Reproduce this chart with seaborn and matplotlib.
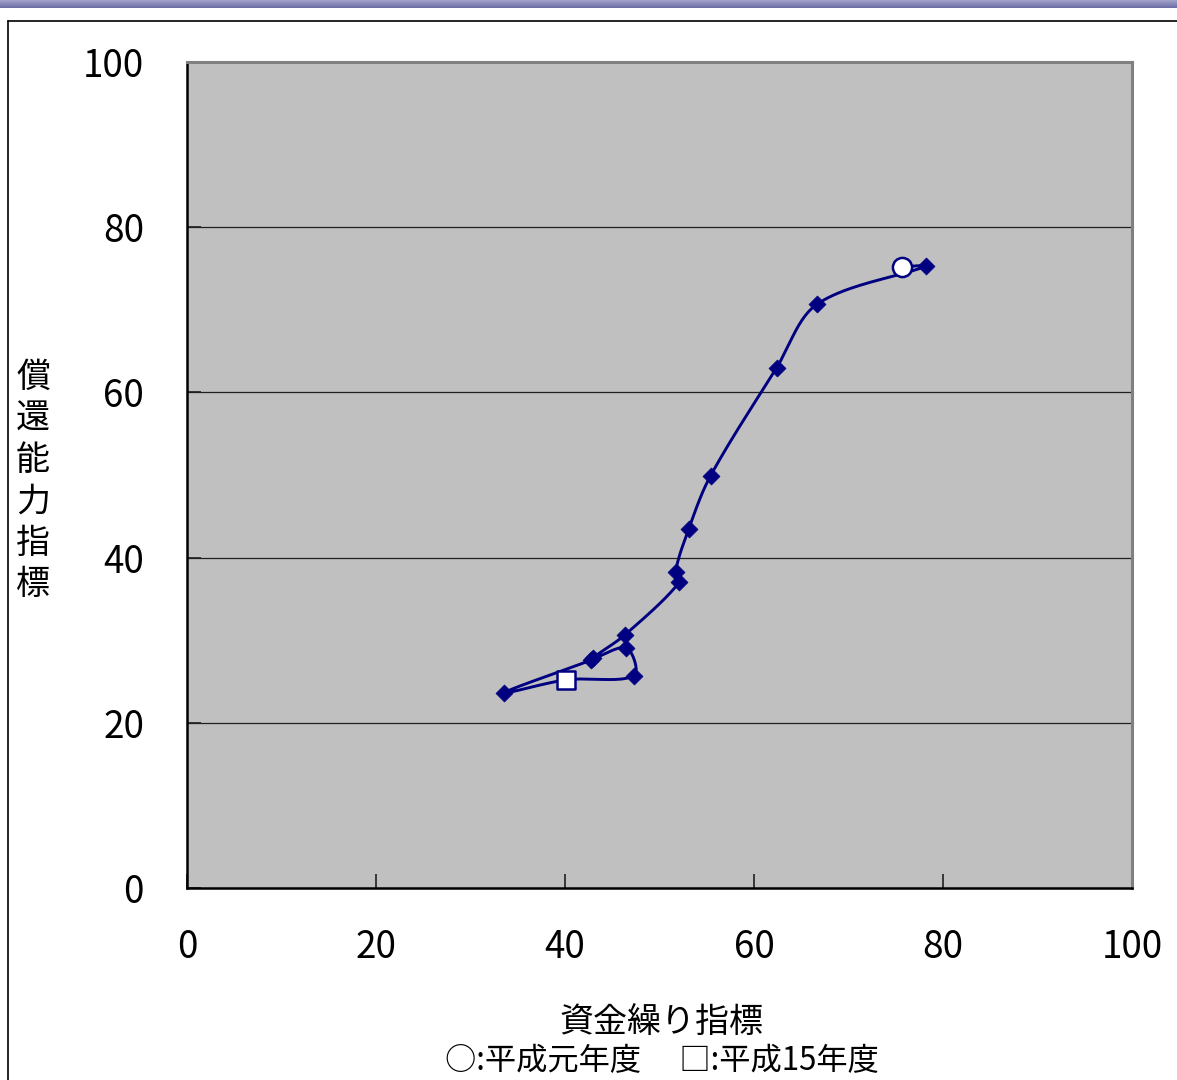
import numpy as np
import pandas as pd
import matplotlib
matplotlib.use("Agg")
import matplotlib.pyplot as plt
import seaborn as sns
from matplotlib.lines import Line2D

# 資金繰り指標 (x) and 償還能力指標 (y), in the order the line runs through them
cash_flow_index = [75.7, 78.2, 66.7, 62.4, 55.4, 53.1, 51.7, 52.1, 46.3, 43.0, 46.5, 47.3, 40.1, 33.5, 42.8]
repay_index = [75.2, 75.3, 70.7, 63.0, 49.9, 43.5, 38.3, 37.0, 30.6, 27.8, 29.1, 25.7, 25.2, 23.6, 27.6]

# highlighted years
first_year = (75.7, 75.2)   # 平成元年度
last_year = (40.1, 25.2)    # 平成15年度

tick_values = [0, 20, 40, 60, 80, 100]
x_label = "資金繰り指標"
y_label = "償還能力指標"
legend_note = "○:平成元年度　 □:平成15年度"

df = pd.DataFrame({"x": cash_flow_index, "y": repay_index})

# axes box in pixels
AX_L, AX_R, AX_T, AX_B = 187, 1132, 62, 888
SX = (AX_R - AX_L) / 100.0
SY = (AX_B - AX_T) / 100.0


def smooth_path(xs, ys, n=40):
    """Bezier smoothing through every point, tangent lengths weighted by chord length."""
    P = np.column_stack([xs, ys]).astype(float)
    scale = np.array([SX, SY])

    def dist(a, b):
        return float(np.hypot(*((a - b) * scale)))

    out = []
    for i in range(len(P) - 1):
        p0 = P[i - 1] if i > 0 else P[i]
        p1, p2 = P[i], P[i + 1]
        p3 = P[i + 2] if i + 2 < len(P) else P[i + 1]
        d01, d12, d23 = dist(p0, p1), dist(p1, p2), dist(p2, p3)
        f1 = d12 / (d01 + d12) / 3.0 if d01 + d12 > 0 else 0.0
        f2 = d12 / (d12 + d23) / 3.0 if d12 + d23 > 0 else 0.0
        c1 = p1 + (p2 - p0) * f1
        c2 = p2 - (p3 - p1) * f2
        t = np.linspace(0, 1, n)[:, None]
        seg = ((1 - t) ** 3) * p1 + 3 * ((1 - t) ** 2) * t * c1 + 3 * (1 - t) * t ** 2 * c2 + t ** 3 * p2
        out.append(seg if i == 0 else seg[1:])
    return np.vstack(out)


curve = smooth_path(df["x"], df["y"])
curve_df = pd.DataFrame({"x": curve[:, 0], "y": curve[:, 1]})

sns.set_theme(style="white")
plt.rcParams["font.family"] = ["Noto Sans CJK JP", "DejaVu Sans"]
plt.rcParams["text.color"] = "black"

navy = "#000080"
fig = plt.figure(figsize=(11.77, 10.8), dpi=100)
ax = fig.add_axes([AX_L / 1177, 1 - AX_B / 1080, (AX_R - AX_L) / 1177, (AX_B - AX_T) / 1080])
ax.set_facecolor("#C0C0C0")

sns.lineplot(data=curve_df, x="x", y="y", sort=False, estimator=None, color=navy,
             linewidth=2.1, ax=ax, zorder=3)
marks = df[~(((df.x == first_year[0]) & (df.y == first_year[1])) |
             ((df.x == last_year[0]) & (df.y == last_year[1])))]
sns.scatterplot(data=marks, x="x", y="y", marker="D", s=75, color=navy,
                edgecolor=navy, linewidth=0.5, ax=ax, zorder=4)
sns.scatterplot(x=[first_year[0]], y=[first_year[1]], marker="o", s=190, color="white",
                edgecolor=navy, linewidth=1.8, ax=ax, zorder=5)
sns.scatterplot(x=[last_year[0]], y=[last_year[1]], marker="s", s=180, color="white",
                edgecolor=navy, linewidth=1.8, ax=ax, zorder=5)

ax.set_xlim(0, 100)
ax.set_ylim(0, 100)
ax.set_xticks(tick_values)
ax.set_yticks(tick_values)
ax.set_xticklabels([str(v) for v in tick_values], fontsize=26.5, color="black")
ax.set_yticklabels([str(v) for v in tick_values], fontsize=26.5, color="black")
ax.tick_params(axis="both", direction="in", length=10, width=1.2, color="#202020",
               bottom=True, left=True)
ax.tick_params(axis="x", pad=29)
ax.tick_params(axis="y", pad=31)
for v in tick_values[1:-1]:
    ax.axhline(v, color="#202020", linewidth=0.9, zorder=1)
ax.set_xlabel("")
ax.set_ylabel("")

for side in ["top", "right"]:
    ax.spines[side].set_color("#808080")
    ax.spines[side].set_linewidth(2.2)
for side in ["left", "bottom"]:
    ax.spines[side].set_color("#000000")
    ax.spines[side].set_linewidth(1.8)

fig.text(661 / 1177, 1 - 1022 / 1080, x_label, fontsize=24.5, ha="center", va="center")
fig.text(662 / 1177, 1 - 1061 / 1080, legend_note, fontsize=22.5, ha="center", va="center")
fig.text(33 / 1177, 1 - 481 / 1080, "\n".join(y_label), fontsize=24.5, ha="center",
         va="center", linespacing=1.24)

# page frame: header band and border lines
band = fig.add_axes([0, 1 - 8 / 1080, 1, 8 / 1080])
band.imshow(np.linspace(0, 1, 8)[:, None], aspect="auto",
            cmap=matplotlib.colors.LinearSegmentedColormap.from_list("band", ["#A0A0C8", "#6E6EA6"]))
band.set_axis_off()
fig.add_artist(Line2D([8 / 1177, 1], [1 - 21 / 1080] * 2, color="#000000", linewidth=1.2))
fig.add_artist(Line2D([8 / 1177] * 2, [0, 1 - 21 / 1080], color="#000000", linewidth=1.2))

fig.savefig("out.png", dpi=100)
